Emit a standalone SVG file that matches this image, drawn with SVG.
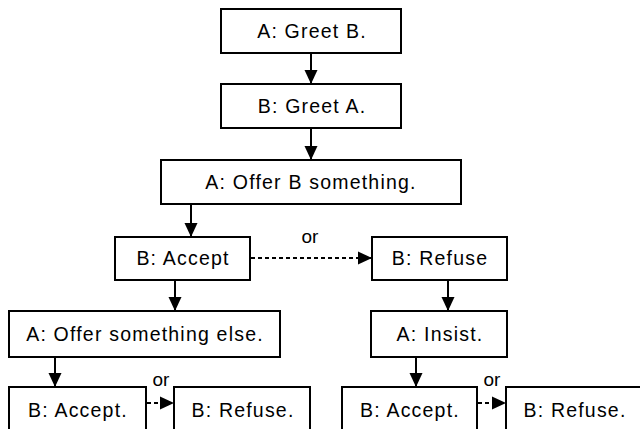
<svg xmlns="http://www.w3.org/2000/svg" width="640" height="429" viewBox="0 0 640 429">
  <style>
    .box { fill: #ffffff; stroke: #000000; stroke-width: 2; }
    .lbl { font-family: "Liberation Sans", Arial, sans-serif; font-size: 19.5px; letter-spacing: 1.2px; fill: #000000; text-anchor: middle; }
    .or { font-family: "Liberation Sans", Arial, sans-serif; font-size: 19px; fill: #000000; text-anchor: middle; }
    .link { stroke: #000000; stroke-width: 2; fill: none; }
    .alt { stroke-dasharray: 4 3; }
  </style>
  <defs>
    <marker id="head" markerUnits="userSpaceOnUse" markerWidth="16" markerHeight="16" viewBox="0 0 16 16" refX="15" refY="8" orient="auto">
      <path d="M1,1.5 L15,8 L1,14.5 Z" fill="#000000"/>
    </marker>
  </defs>

  <rect width="640" height="429" fill="#ffffff"/>

  <g id="connectors">
    <line class="link" x1="311" y1="53" x2="311" y2="84" marker-end="url(#head)"/>
    <line class="link" x1="311" y1="128" x2="311" y2="160" marker-end="url(#head)"/>
    <line class="link" x1="191" y1="204" x2="191" y2="237" marker-end="url(#head)"/>
    <line class="link alt" x1="251" y1="258" x2="372" y2="258" marker-end="url(#head)"/>
    <line class="link" x1="175" y1="280" x2="175" y2="311" marker-end="url(#head)"/>
    <line class="link" x1="448" y1="280" x2="448" y2="311" marker-end="url(#head)"/>
    <line class="link" x1="55" y1="357" x2="55" y2="387" marker-end="url(#head)"/>
    <line class="link alt" x1="147" y1="403" x2="174" y2="403" marker-end="url(#head)"/>
    <line class="link" x1="416" y1="357" x2="416" y2="387" marker-end="url(#head)"/>
    <line class="link alt" x1="478" y1="403" x2="506" y2="403" marker-end="url(#head)"/>
    <text class="or" x="310" y="243">or</text>
    <text class="or" x="161" y="386">or</text>
    <text class="or" x="492" y="386">or</text>
  </g>

  <g id="greet-b">
    <rect class="box" x="221" y="9" width="180" height="44"/>
    <text class="lbl" x="312" y="38">A: Greet B.</text>
  </g>
  <g id="greet-a">
    <rect class="box" x="221" y="84" width="180" height="44"/>
    <text class="lbl" x="312" y="113">B: Greet A.</text>
  </g>
  <g id="offer">
    <rect class="box" x="161" y="160" width="300" height="44"/>
    <text class="lbl" x="311" y="189">A: Offer B something.</text>
  </g>
  <g id="accept">
    <rect class="box" x="115" y="237" width="135" height="43"/>
    <text class="lbl" x="183" y="265">B: Accept</text>
  </g>
  <g id="refuse">
    <rect class="box" x="372" y="237" width="135" height="43"/>
    <text class="lbl" x="440" y="265">B: Refuse</text>
  </g>
  <g id="offer-else">
    <rect class="box" x="9" y="311" width="271" height="46"/>
    <text class="lbl" x="145" y="341">A: Offer something else.</text>
  </g>
  <g id="insist">
    <rect class="box" x="371" y="311" width="136" height="46"/>
    <text class="lbl" x="440" y="341">A: Insist.</text>
  </g>
  <g id="accept-else">
    <rect class="box" x="9" y="387" width="137" height="46"/>
    <text class="lbl" x="78" y="417">B: Accept.</text>
  </g>
  <g id="refuse-else">
    <rect class="box" x="174" y="387" width="136" height="46"/>
    <text class="lbl" x="243" y="417">B: Refuse.</text>
  </g>
  <g id="accept-insist">
    <rect class="box" x="342" y="387" width="135" height="46"/>
    <text class="lbl" x="410" y="417">B: Accept.</text>
  </g>
  <g id="refuse-insist">
    <rect class="box" x="506" y="387" width="140" height="46"/>
    <text class="lbl" x="575" y="417">B: Refuse.</text>
  </g>
</svg>
